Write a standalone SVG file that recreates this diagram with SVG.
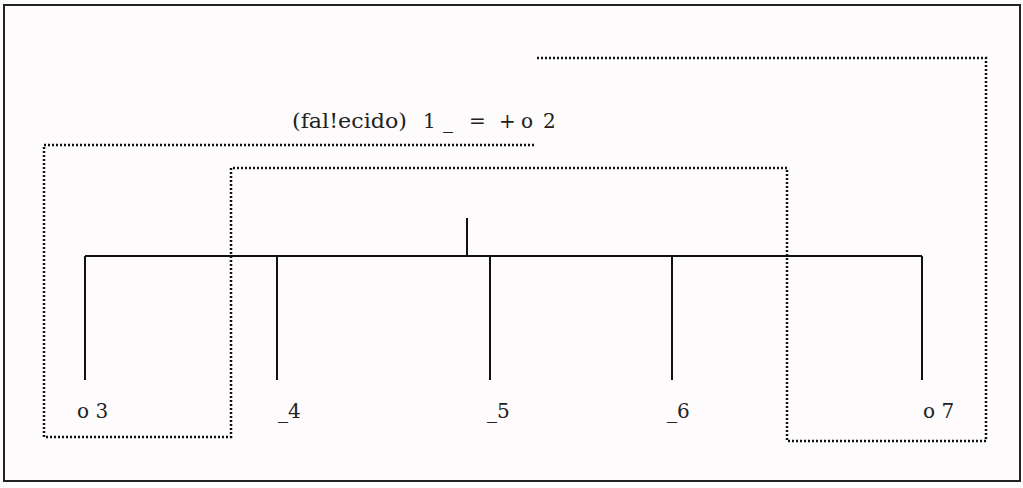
<svg xmlns="http://www.w3.org/2000/svg" width="1023" height="488" viewBox="0 0 1023 488">
<style>
.solid{stroke:#111;stroke-width:2;fill:none}
.dot{stroke:#111;stroke-width:2.5;fill:none;stroke-dasharray:2 2}
.t{font-family:"DejaVu Serif","Liberation Serif",serif;font-size:20px;fill:#222}
</style>
<rect x="0" y="0" width="1023" height="488" fill="#fdfbfc"/>
<rect x="4" y="5" width="1016" height="476" fill="none" stroke="#222" stroke-width="2"/>
<g id="connectors">
<path class="solid" d="M85 256 H922 M467 218 V256 M85 256 V380 M277 256 V380 M490 256 V380 M672 256 V380 M922 256 V380"/>
<path class="dot" d="M537 58 H986 V441 H787 V168 H231 V437 H44 V145 H535"/>
</g>
<g id="n1"><text class="t" y="128"><tspan x="292" textLength="115" lengthAdjust="spacingAndGlyphs">(fal!ecido)</tspan><tspan x="423">1</tspan><tspan x="443">_</tspan><tspan x="469">=</tspan><tspan x="499">+</tspan><tspan x="521">o</tspan><tspan x="543">2</tspan></text></g>
<g id="n3"><text class="t" x="77" y="418">o 3</text></g>
<g id="n4"><text class="t" x="278" y="418">_4</text></g>
<g id="n5"><text class="t" x="487" y="418">_5</text></g>
<g id="n6"><text class="t" x="667" y="418">_6</text></g>
<g id="n7"><text class="t" x="923" y="418">o 7</text></g>
</svg>
